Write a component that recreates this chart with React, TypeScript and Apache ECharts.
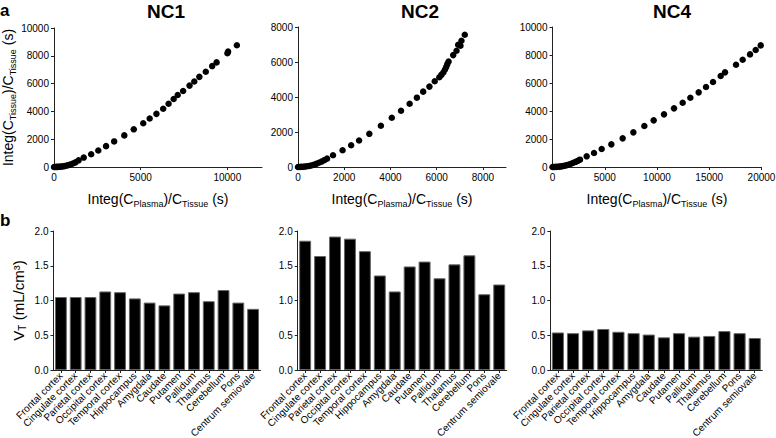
import React, { useEffect, useRef } from "react";
import * as echarts from "echarts";

const FONT = '"Liberation Sans", Arial, Helvetica, sans-serif';

const panelTitles = ["NC1", "NC2", "NC4"];

const nc1Points = [[0,0],[50,1],[100,4],[160,7],[230,11],[310,18],[400,28],[490,42],[590,62],[700,92],[820,132],[950,185],[1090,255],[1240,335],[1420,480],[1716,678],[2145,920],[2555,1186],[3003,1500],[3471,1839],[4056,2275],[4602,2710],[5148,3146],[5519,3485],[5909,3824],[6299,4187],[6610,4550],[6903,4888],[7137,5179],[7449,5469],[7820,5856],[8093,6147],[8385,6486],[8756,6849],[9126,7260],[9380,7526],[10004,8180],[10043,8300],[10550,8760]];
const nc2Points = [[0,0],[40,2],[90,5],[150,10],[220,16],[300,25],[390,40],[480,60],[580,90],[680,130],[790,180],[900,240],[1020,310],[1140,390],[1257,478],[1515,670],[1929,957],[2300,1244],[2643,1512],[3086,1895],[3586,2354],[4058,2814],[4458,3216],[4830,3617],[5144,3962],[5416,4307],[5687,4594],[5916,4900],[6116,5130],[6202,5263],[6288,5397],[6359,5570],[6416,5723],[6459,5876],[6516,6029],[6716,6393],[6859,6642],[6930,6986],[7030,6929],[7073,7216],[7216,7560]];
const nc4Points = [[0,0],[100,2],[220,5],[350,10],[500,17],[660,28],[830,45],[1000,65],[1180,95],[1370,130],[1570,175],[1780,230],[2000,300],[2220,370],[2420,440],[2632,524],[3270,762],[3972,1000],[4705,1285],[5630,1618],[6715,2047],[7736,2475],[8789,2927],[9682,3332],[10671,3760],[11628,4189],[12457,4593],[13191,4950],[13988,5331],[14690,5712],[15360,6069],[16094,6497],[16508,6759],[17561,7307],[18199,7664],[18901,8044],[19443,8354],[19922,8687]];

const nc1XTicks = [0, 5000, 10000];
const nc2XTicks = [0, 2000, 4000, 6000, 8000];
const nc4XTicks = [0, 5000, 10000, 15000, 20000];

const regions = ["Frontal cortex","Cingulate cortex","Parietal cortex","Occipital cortex","Temporal cortex","Hippocampus","Amygdala","Caudate","Putamen","Pallidum","Thalamus","Cerebellum","Pons","Centrum semiovale"];
const vtNC1 = [1.05,1.05,1.05,1.13,1.12,1.03,0.97,0.93,1.10,1.12,0.99,1.15,0.97,0.88];
const vtNC2 = [1.86,1.64,1.92,1.89,1.71,1.36,1.13,1.49,1.56,1.32,1.52,1.65,1.09,1.23];
const vtNC4 = [0.54,0.53,0.57,0.59,0.55,0.53,0.51,0.47,0.53,0.48,0.49,0.56,0.53,0.46];

const AXIS_COLOR = "#222";
const fmtInt = (v: number) => String(Math.round(v));
const fmt1 = (v: number) => v.toFixed(1);

const richSub = (main: number, sub: number, pad: number) => ({
  m: { fontSize: main, lineHeight: main, verticalAlign: "top", fontFamily: FONT, color: "#000" },
  s: { fontSize: sub, lineHeight: sub, verticalAlign: "top", padding: [pad, 0, 0, 0], fontFamily: FONT, color: "#000" },
});

const xName = "{m|Integ(C}{s|Plasma}{m|)/C}{s|Tissue}{m| (s)}";
const yName = "{m|Integ(C}{s|Tissue}{m|)/C}{s|Tissue}{m| (s)}";
const vtName = "{m|V}{s|T}{m| (mL/cm³)}";

function baseAxis() {
  return {
    axisLine: { show: true, lineStyle: { color: AXIS_COLOR, width: 1 } },
    axisTick: { show: true, length: 3, lineStyle: { color: AXIS_COLOR, width: 1 } },
    axisLabel: { fontSize: 10, color: "#000", fontFamily: FONT, margin: 5 },
    splitLine: { show: false },
  };
}

function valueX(gridIndex: number, max: number, ticks: number[]) {
  const b = baseAxis();
  return {
    type: "value",
    gridIndex,
    min: 0,
    max,
    ...b,
    axisTick: { ...b.axisTick, customValues: ticks },
    axisLabel: { ...b.axisLabel, customValues: ticks, formatter: fmtInt },
    name: xName,
    nameLocation: "middle",
    nameGap: 25,
    nameTextStyle: { fontFamily: FONT, rich: richSub(14, 9, 7) },
  };
}

function valueY(gridIndex: number, max: number, interval: number, name: string, gap: number, rich: any, fmt: (v: number) => string) {
  const b = baseAxis();
  return {
    type: "value",
    gridIndex,
    min: 0,
    max,
    interval,
    ...b,
    axisLabel: { ...b.axisLabel, formatter: fmt },
    name,
    nameLocation: "middle",
    nameGap: gap,
    nameTextStyle: { fontFamily: FONT, rich },
  };
}

function catX(gridIndex: number) {
  const b = baseAxis();
  return {
    type: "category",
    gridIndex,
    data: regions,
    ...b,
    axisTick: { ...b.axisTick, alignWithLabel: true },
    axisLabel: { ...b.axisLabel, fontSize: 10, rotate: 45, interval: 0, margin: 4 },
  };
}

export default function App() {
  const ref = useRef<HTMLDivElement>(null);
  useEffect(() => {
    if (!ref.current) return;
    const chart = echarts.init(ref.current, undefined, { renderer: "svg" });
    const titleText = (t: string, x: number) => ({
      type: "text",
      x,
      y: 11,
      style: { text: t, font: `bold 19px ${FONT}`, fill: "#000", align: "center", verticalAlign: "middle", textAlign: "center", textVerticalAlign: "middle" },
    });
    const scatterStyle = { color: "#000", opacity: 1 };
    const barStyle = { color: "#000", borderColor: "#666", borderWidth: 1 };
    const g = (left: number, top: number, width: number, height: number) => ({ left, top, width, height, containLabel: false, outerBoundsMode: "none" });
    const option: any = {
      animation: false,
      backgroundColor: "#fff",
      grid: [
        g(54, 28, 208, 139),
        g(298, 27, 208, 140),
        g(552.5, 27, 209, 140),
        g(53.5, 231, 207, 139),
        g(297.7, 231, 209, 139),
        g(550.3, 231, 212, 139),
      ],
      xAxis: [
        valueX(0, 12000, nc1XTicks),
        valueX(1, 9000, nc2XTicks),
        valueX(2, 20000, nc4XTicks),
        catX(3),
        catX(4),
        catX(5),
      ],
      yAxis: [
        valueY(0, 10000, 2000, yName, 37, richSub(14, 9, 7), fmtInt),
        valueY(1, 8000, 2000, "", 30, undefined, fmtInt),
        valueY(2, 10000, 2000, "", 30, undefined, fmtInt),
        valueY(3, 2, 0.5, vtName, 28, richSub(15, 10, 7), fmt1),
        valueY(4, 2, 0.5, "", 27, undefined, fmt1),
        valueY(5, 2, 0.5, "", 27, undefined, fmt1),
      ],
      graphic: [
        titleText(panelTitles[0], 166),
        titleText(panelTitles[1], 420),
        titleText(panelTitles[2], 672),
        { type: "text", x: 0, y: 2, style: { text: "a", font: `bold 17px ${FONT}`, fill: "#000" } },
        { type: "text", x: 0, y: 212, style: { text: "b", font: `bold 17px ${FONT}`, fill: "#000" } },
      ],
      series: [
        { type: "scatter", xAxisIndex: 0, yAxisIndex: 0, data: nc1Points, symbolSize: 6.5, itemStyle: scatterStyle },
        { type: "scatter", xAxisIndex: 1, yAxisIndex: 1, data: nc2Points, symbolSize: 6.5, itemStyle: scatterStyle },
        { type: "scatter", xAxisIndex: 2, yAxisIndex: 2, data: nc4Points, symbolSize: 6.5, itemStyle: scatterStyle },
        { type: "bar", xAxisIndex: 3, yAxisIndex: 3, data: vtNC1, barCategoryGap: "20%", itemStyle: barStyle },
        { type: "bar", xAxisIndex: 4, yAxisIndex: 4, data: vtNC2, barCategoryGap: "20%", itemStyle: barStyle },
        { type: "bar", xAxisIndex: 5, yAxisIndex: 5, data: vtNC4, barCategoryGap: "20%", itemStyle: barStyle },
      ],
    };
    chart.setOption(option);
    return () => chart.dispose();
  }, []);
  return <div ref={ref} style={{ width: 776, height: 438, position: "absolute", left: 0, top: 0 }} />;
}
